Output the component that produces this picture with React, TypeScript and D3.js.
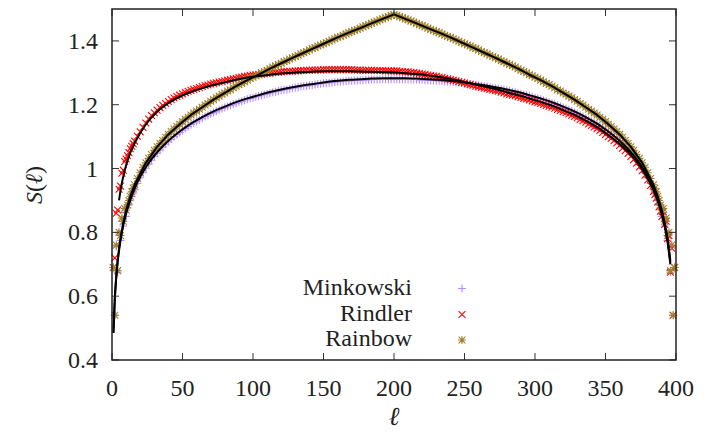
import React from "react";
import * as d3 from "d3";

// ---------- data ----------
const ell = [
  1,2,3,4,5,6,7,8,9,10,11,12,13,14,15,
  16,18,20,22,24,26,28,30,32,34,36,38,40,42,44,46,48,50,52,54,56,58,60,62,64,66,68,70,72,74,76,78,80,82,84,86,88,90,92,94,96,98,100,
  102,104,106,108,110,112,114,116,118,120,122,124,126,128,130,132,134,136,138,140,142,144,146,148,150,152,154,156,158,160,162,164,166,168,170,172,174,176,178,180,182,184,186,188,190,192,194,196,198,200,
  202,204,206,208,210,212,214,216,218,220,222,224,226,228,230,232,234,236,238,240,242,244,246,248,250,252,254,256,258,260,262,264,266,268,270,272,274,276,278,280,282,284,286,288,290,292,294,296,298,300,
  302,304,306,308,310,312,314,316,318,320,322,324,326,328,330,332,334,336,338,340,342,344,346,348,350,352,354,356,358,360,362,364,366,368,370,372,374,376,378,380,382,384,
  385,386,387,388,389,390,391,392,393,394,395,396,397,398,399
];

const minkowski = [
  0.69,0.54,0.755,0.675,0.795,0.775,0.835,0.82,0.862,0.85,0.877,0.886,0.899,0.912,0.923,
  0.934,0.953,0.971,0.987,1.001,1.014,1.026,1.038,1.048,1.058,
  1.067,1.076,1.084,1.092,1.100,1.107,1.113,1.120,1.126,1.132,
  1.138,1.143,1.148,1.153,1.158,1.163,1.167,1.172,1.176,1.180,
  1.184,1.188,1.191,1.195,1.198,1.202,1.205,1.208,1.211,1.214,
  1.217,1.220,1.222,1.225,1.227,1.230,1.232,1.234,1.237,1.239,
  1.241,1.243,1.245,1.247,1.248,1.250,1.252,1.253,1.255,1.257,
  1.258,1.259,1.261,1.262,1.263,1.265,1.266,1.267,1.268,1.269,
  1.270,1.271,1.272,1.272,1.273,1.274,1.275,1.275,1.276,1.276,
  1.277,1.277,1.278,1.278,1.279,1.279,1.279,1.279,1.280,1.280,
  1.280,1.280,1.280,
  1.280,1.280,
  1.280,1.280,1.279,1.279,1.279,1.279,1.278,1.278,1.277,1.277,
  1.276,1.276,1.275,1.275,1.274,1.273,1.272,1.272,1.271,1.270,
  1.269,1.268,1.267,1.266,1.265,1.263,1.262,1.261,1.259,1.258,
  1.257,1.255,1.253,1.252,1.250,1.248,1.247,1.245,1.243,1.241,
  1.239,1.237,1.234,1.232,1.230,1.227,1.225,1.222,1.220,1.217,
  1.214,1.211,1.208,1.205,1.202,1.198,1.195,1.191,1.188,1.184,
  1.180,1.176,1.172,1.167,1.163,1.158,1.153,1.148,1.143,1.138,
  1.132,1.126,1.120,1.113,1.107,1.100,1.092,1.084,1.076,1.067,
  1.058,1.048,1.038,1.026,1.014,1.001,0.987,0.971,0.953,0.934,
  0.923,0.912,0.899,0.886,0.877,0.85,0.862,0.82,0.835,0.775,0.795,0.675,0.755,0.54,0.69
];

const rindler = [
  0.69,0.72,0.86,0.87,0.935,0.945,0.985,0.995,1.022,1.03,1.04,1.05,1.062,1.07,1.078,
  1.086,1.101,1.115,1.129,1.143,1.155,1.166,1.175,1.183,1.191,
  1.198,1.204,1.210,1.216,1.221,1.226,1.230,1.234,1.238,1.242,
  1.245,1.248,1.251,1.254,1.257,1.260,1.262,1.265,1.267,1.269,
  1.271,1.273,1.275,1.277,1.279,1.281,1.283,1.285,1.287,1.289,
  1.290,1.292,1.293,1.294,1.295,1.296,1.297,1.298,1.299,1.300,
  1.301,1.302,1.303,1.304,1.304,1.305,1.305,1.306,1.306,1.307,
  1.307,1.308,1.308,1.309,1.309,1.309,1.309,1.310,1.310,1.310,
  1.310,1.310,1.310,1.310,1.310,1.310,1.310,1.310,1.309,1.309,
  1.309,1.308,1.308,1.308,1.308,1.307,1.307,1.307,1.307,1.306,
  1.306,1.306,1.306,
  1.306,1.305,1.304,1.303,1.303,1.302,1.301,1.299,1.298,1.296,
  1.295,1.293,1.292,1.290,1.289,1.287,1.285,1.283,1.281,1.279,
  1.277,1.275,1.273,1.270,1.268,1.265,1.263,1.261,1.258,1.256,
  1.254,1.252,1.250,1.248,1.246,1.244,1.242,1.239,1.237,1.234,
  1.232,1.230,1.228,1.225,1.223,1.220,1.218,1.215,1.212,1.209,
  1.207,1.204,1.201,1.198,1.195,1.192,1.189,1.185,1.182,1.178,
  1.175,1.171,1.167,1.163,1.159,1.154,1.150,1.145,1.140,1.135,
  1.130,1.125,1.119,1.113,1.107,1.100,1.094,1.087,1.080,1.072,
  1.064,1.056,1.047,1.038,1.028,1.017,1.005,0.993,0.979,0.964,
  0.947,0.928,
  0.918,0.907,0.895,0.88,0.866,0.85,0.865,0.825,0.835,0.78,0.79,0.675,0.75,0.54,0.69
];

const rainbow = [
  0.69,0.54,0.76,0.68,0.80,0.79,0.845,0.835,0.875,0.87,0.886,0.90,0.913,0.927,0.938,
  0.949,0.969,0.987,1.004,1.018,1.032,1.044,1.057,1.068,1.079,
  1.088,1.098,1.107,1.116,1.124,1.132,1.139,1.147,1.154,1.161,
  1.168,1.174,1.180,1.186,1.192,1.199,1.204,1.211,1.216,1.222,
  1.227,1.233,1.237,1.243,1.247,1.253,1.258,1.263,1.267,1.272,
  1.277,1.282,1.286,1.291,1.294,1.300,1.304,1.308,1.313,1.318,
  1.322,1.326,1.330,1.335,1.338,1.343,1.347,1.351,1.355,1.360,
  1.363,1.367,1.372,1.376,1.379,1.384,1.387,1.391,1.395,1.399,
  1.403,1.407,1.411,1.414,1.418,1.422,1.426,1.429,1.433,1.436,
  1.440,1.444,1.448,1.451,1.455,1.459,1.462,1.466,1.469,1.473,
  1.476,1.480,1.483,
  1.480,1.476,
  1.473,1.469,1.466,1.462,1.459,1.455,1.451,1.448,1.444,1.440,
  1.436,1.433,1.429,1.426,1.422,1.418,1.414,1.411,1.407,1.403,
  1.399,1.395,1.391,1.387,1.384,1.379,1.376,1.372,1.367,1.363,
  1.360,1.355,1.351,1.347,1.343,1.338,1.335,1.330,1.326,1.322,
  1.318,1.313,1.308,1.304,1.300,1.294,1.291,1.286,1.282,1.277,
  1.272,1.267,1.263,1.258,1.253,1.247,1.243,1.237,1.233,1.227,
  1.222,1.216,1.211,1.204,1.199,1.192,1.186,1.180,1.174,1.168,
  1.161,1.154,1.147,1.139,1.132,1.124,1.116,1.107,1.098,1.088,
  1.079,1.068,1.057,1.044,1.032,1.018,1.004,0.987,0.969,0.949,
  0.938,0.927,0.913,0.90,0.886,0.87,0.875,0.835,0.845,0.79,0.80,0.68,0.76,0.54,0.69
];

// fitted curves (black lines)
const fitEll = [1,2,3,4,5,6,8,10,13,16,24,32,40,48,56,64,72,80,88,96,104,112,120,128,136,144,152,160,168,176,184,192,200,208,216,224,232,240,248,256,264,272,280,288,296,304,312,320,328,336,344,352,360,368,376,384,387,390,392,394,396];

const minkowskiFit = [
  0.485,0.591,0.658,0.706,0.743,0.774,0.822,0.859,0.902,
  0.937,1.004,1.051,1.087,1.116,1.141,1.161,1.179,1.194,1.208,1.220,1.230,1.240,1.248,1.255,1.261,1.266,1.271,1.275,1.278,1.280,1.282,1.283,1.283,
  1.283,1.282,1.280,1.278,1.275,1.271,1.266,1.261,1.255,1.248,1.240,1.230,1.220,1.208,1.194,1.179,1.161,1.141,1.116,1.087,1.051,1.004,0.937,
  0.902,0.859,0.822,0.774,0.706
];

const rainbowFit = [
  0.485,0.595,0.663,0.712,0.75,0.781,0.83,0.869,0.913,
  0.949,1.018,1.068,1.107,1.139,1.168,1.192,1.216,1.237,1.258,1.277,1.294,1.313,1.330,1.347,1.363,1.379,1.395,1.411,1.426,1.440,1.455,1.469,1.483,
  1.469,1.455,1.440,1.426,1.411,1.395,1.379,1.363,1.347,1.330,1.313,1.294,1.277,1.258,1.237,1.216,1.192,1.168,1.139,1.107,1.068,1.018,0.949,
  0.913,0.869,0.83,0.781,0.712
];

const rindlerFitEll = [5,6,7,8,10,13,16,24,32,40,48,56,64,72,80,88,96,104,112,120,128,136,144,152,160,168,176,184,192,200,208,216,224,232,240,248,256,264,272,280,288,296,304,312,320,328,336,344,352,360,368,376,384,387,390,392,394,396];

const rindlerFit = [
  0.90,0.93,0.955,0.975,1.010,1.050,
  1.079,1.138,1.178,1.205,1.225,1.240,1.252,1.262,1.270,1.278,1.285,1.290,1.294,1.298,1.300,1.302,1.304,1.305,1.305,1.305,1.304,1.303,1.302,1.301,
  1.299,1.296,1.292,1.287,1.281,1.273,1.265,1.257,1.249,1.239,1.230,1.220,1.209,1.197,1.183,1.168,1.150,1.130,1.105,1.077,1.043,0.998,0.933,
  0.900,0.855,0.818,0.77,0.70
];

const xTicks = [0, 50, 100, 150, 200, 250, 300, 350, 400];
const yTicks = [0.4, 0.6, 0.8, 1.0, 1.2, 1.4];
const yTickLabels = ["0.4", "0.6", "0.8", "1", "1.2", "1.4"];
const seriesNames = ["Minkowski", "Rindler", "Rainbow"];

// ---------- drawing ----------
const W = 712;
const H = 432;
const FONT = "'Liberation Serif', 'DejaVu Serif', serif";

const COLORS = ["#b58cff", "#ff0000", "#a0802c"];
const R = 4;
const C = R * 0.85;
const plusPath = `M${-R},0H${R}M0,${-R}V${R}`;
const crossPath = `M${-C},${-C}L${C},${C}M${-C},${C}L${C},${-C}`;
const starPath = plusPath + crossPath;
const SYMBOLS = [plusPath, crossPath, starPath];

export default function App() {
  const x = d3.scaleLinear().domain([0, 400]).range([112, 676]);
  const y = d3.scaleLinear().domain([0.4, 1.5]).range([360, 9]);
  const [x0, x1] = x.range();
  const [y0, y1] = y.range();

  const series = [minkowski, rindler, rainbow];

  const lineGen = (xs: number[], ys: number[], curve: any) =>
    d3
      .line<number>()
      .x((_, i) => x(xs[i]))
      .y((v) => y(v))
      .curve(curve)(ys) as string;

  const fits = [
    lineGen(fitEll, minkowskiFit, d3.curveMonotoneX),
    lineGen(rindlerFitEll, rindlerFit, d3.curveMonotoneX),
    lineGen(fitEll, rainbowFit, d3.curveLinear),
  ];

  const tickLen = 7;
  const legendTextX = 412;
  const legendMarkX = 462;
  const legendBase = [294.5, 320.5, 346];
  const textStyle = { fontFamily: FONT };

  return (
    <svg
      width={W}
      height={H}
      viewBox={`0 0 ${W} ${H}`}
      style={{ position: "absolute", left: 0, top: 0, background: "#fff" }}
    >
      <rect x={0} y={0} width={W} height={H} fill="#fff" />

      {/* markers */}
      {series.map((vals, si) => (
        <g key={si} stroke={COLORS[si]} strokeWidth={1.1} fill="none">
          {vals.map((v, i) => (
            <path key={i} d={SYMBOLS[si]} transform={`translate(${x(ell[i])},${y(v)})`} />
          ))}
        </g>
      ))}

      {/* fits */}
      {fits.map((d, i) => (
        <path key={i} d={d} fill="none" stroke="#000" strokeWidth={2} strokeLinejoin="round" />
      ))}

      {/* ticks */}
      <g stroke="#333" strokeWidth={1}>
        {xTicks.map((t) => (
          <g key={"xt" + t}>
            <line x1={x(t)} x2={x(t)} y1={y0} y2={y0 - tickLen} />
            <line x1={x(t)} x2={x(t)} y1={y1} y2={y1 + tickLen} />
          </g>
        ))}
        {yTicks.map((t) => (
          <g key={"yt" + t}>
            <line x1={x0} x2={x0 + tickLen} y1={y(t)} y2={y(t)} />
            <line x1={x1} x2={x1 - tickLen} y1={y(t)} y2={y(t)} />
          </g>
        ))}
      </g>

      {/* frame */}
      <rect x={x0} y={y1} width={x1 - x0} height={y0 - y1} fill="none" stroke="#222" strokeWidth={1.5} />

      {/* tick labels */}
      <g fontSize={24} fill="#222" style={textStyle}>
        {xTicks.map((t) => (
          <text key={"xl" + t} x={x(t)} y={396} textAnchor="middle" style={textStyle}>
            {t}
          </text>
        ))}
        {yTicks.map((t, i) => (
          <text key={"yl" + t} x={98} y={y(t) + 8} textAnchor="end" style={textStyle}>
            {yTickLabels[i]}
          </text>
        ))}
      </g>

      {/* axis titles */}
      <text x={394} y={425} textAnchor="middle" fontSize={26} fontStyle="italic" fill="#222" style={textStyle}>
        ℓ
      </text>
      <text
        transform="translate(42,185) rotate(-90)"
        textAnchor="middle"
        fontSize={24}
        fill="#222"
        style={textStyle}
      >
        <tspan fontStyle="italic">S</tspan>(<tspan fontStyle="italic">ℓ</tspan>)
      </text>

      {/* legend */}
      {seriesNames.map((name, i) => (
        <g key={name}>
          <text x={legendTextX} y={legendBase[i]} textAnchor="end" fontSize={24} fill="#222" style={textStyle}>
            {name}
          </text>
          <path
            d={SYMBOLS[i]}
            transform={`translate(${legendMarkX},${legendBase[i] - 6})`}
            stroke={COLORS[i]}
            strokeWidth={1.1}
            fill="none"
          />
        </g>
      ))}
    </svg>
  );
}
